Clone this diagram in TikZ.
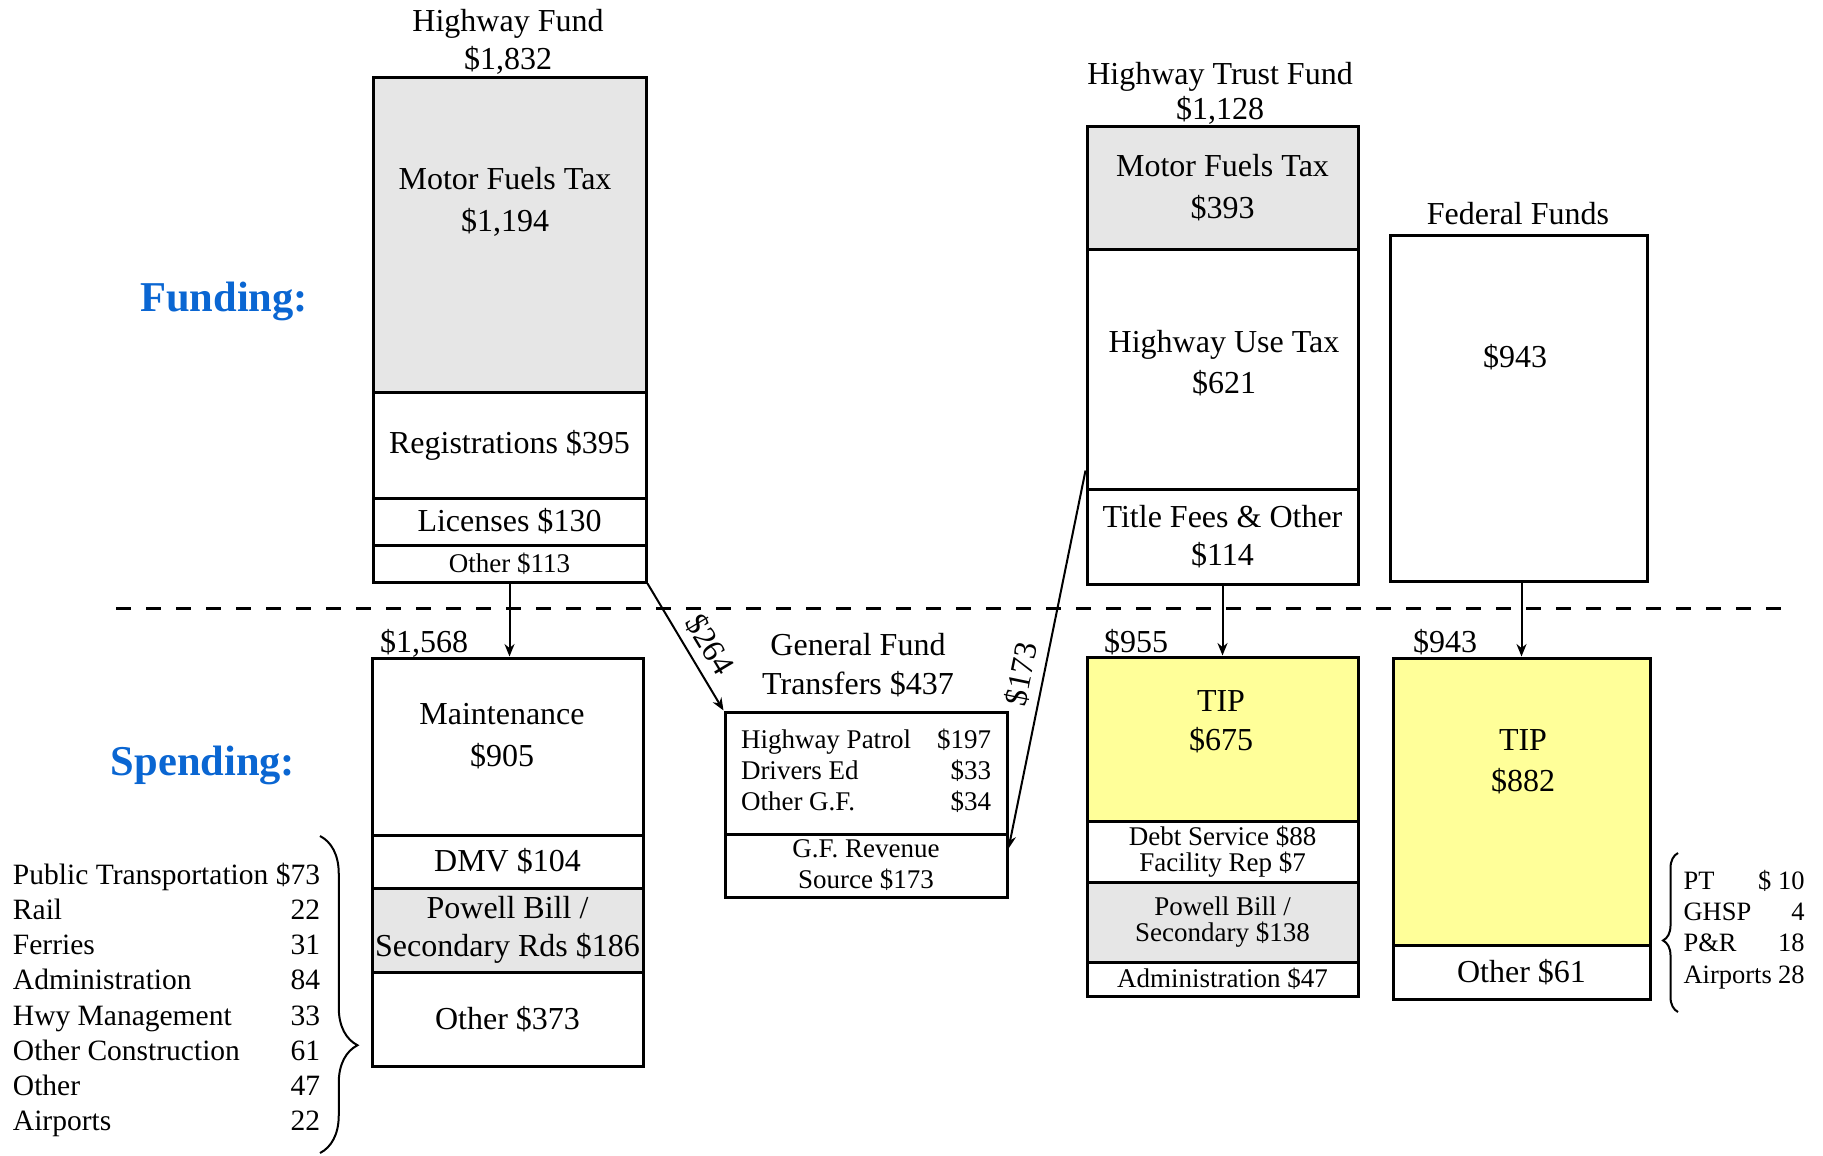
\documentclass[tikz,border=0pt]{standalone}
\usepackage{fontspec}
\setmainfont{Liberation Serif}
\usetikzlibrary{arrows.meta,decorations.pathreplacing}
\definecolor{fundblue}{RGB}{10,102,210}
\definecolor{segfill}{RGB}{230,230,230}
\definecolor{tipfill}{RGB}{255,255,153}

\begin{document}
\begin{tikzpicture}[x=0.4pt, y=-0.4pt,
    seg/.style={rectangle, draw, line width=1.2pt, inner sep=0pt, align=center, font=\fontsize{12.8}{15}\selectfont},
    big/.style={font=\fontsize{12.8}{15}\selectfont},
    bigwide/.style={font=\fontsize{12.8}{16.6}\selectfont},
    small/.style={font=\fontsize{10.8}{12.4}\selectfont},
    tight/.style={font=\fontsize{10.8}{10.6}\selectfont},
    lbl/.style={align=center, inner sep=0pt},
    head/.style={font=\fontsize{17}{20}\selectfont\bfseries, text=fundblue},
    arrow/.style={-{Stealth[length=5pt,width=4pt]}, line width=0.8pt}
]
\useasboundingbox (0,0) rectangle (1823,1155);

\node[head] (funding) at (224,301) {Funding:};
\node[head] (spending) at (203,765) {Spending:};

\node[lbl, big] (hfTitle) at (508,42) {Highway Fund\\\$1,832};
\node[seg, fill=segfill, minimum width=109.2pt, minimum height=126pt] (hf1) at (509.5,234.5) {};
\node[lbl, bigwide] (hf1Text) at (505,202) {Motor Fuels Tax\\\$1,194};
\node[seg, minimum width=109.2pt, minimum height=42.4pt] (hf2) at (509.5,445) {Registrations \$395};
\node[seg, minimum width=109.2pt, minimum height=18.8pt] (hf3) at (509.5,521.5) {Licenses \$130};
\node[seg, small, minimum width=109.2pt, minimum height=14.8pt] (hf4) at (509.5,563.5) {Other \$113};

\node[lbl, font=\fontsize{12.8}{14}\selectfont] (htfTitle) at (1220,93) {Highway Trust Fund\\\$1,128};
\node[seg, bigwide, fill=segfill, minimum width=108.4pt, minimum height=49.2pt] (htf1) at (1222.5,187.5) {Motor Fuels Tax\\\$393};
\node[seg, minimum width=108.4pt, minimum height=96pt] (htf2) at (1222.5,369) {};
\node[lbl, bigwide] (htf2Text) at (1224,363) {Highway Use Tax\\\$621};
\node[seg, minimum width=108.4pt, minimum height=38pt] (htf3) at (1222.5,536.5) {Title Fees \& Other\\\$114};

\node[lbl, big] (ffTitle) at (1518,214) {Federal Funds};
\node[seg, minimum width=102.8pt, minimum height=138.4pt] (ff) at (1518.5,408) {};
\node[lbl, big] (ffText) at (1515,357) {\$943};

\draw[line width=1.2pt, dash pattern=on 6pt off 6pt] (116,608) -- (1790,608);

\node[lbl, big] (mTotal) at (424,643) {\$1,568};
\node[seg, minimum width=108.4pt, minimum height=70.8pt] (m1) at (507.5,746.5) {};
\node[lbl, bigwide] (m1Text) at (502,736) {Maintenance\\\$905};
\node[seg, minimum width=108.4pt, minimum height=21.2pt] (m2) at (507.5,861.5) {DMV \$104};
\node[seg, fill=segfill, minimum width=108.4pt, minimum height=33.6pt] (m3) at (507.5,930) {Powell Bill /\\Secondary Rds \$186};
\node[seg, minimum width=108.4pt, minimum height=37.6pt] (m4) at (507.5,1019) {Other \$373};

\node[lbl, font=\fontsize{12.8}{15.6}\selectfont] (gfTitle) at (858,665) {General Fund\\Transfers \$437};
\node[seg, small, minimum width=112.8pt, minimum height=48.8pt] (g1) at (866,773)
  {\begin{tabular*}{100pt}{@{}l@{\extracolsep{\fill}}r@{}}
   Highway Patrol & \$197\\
   Drivers Ed & \$33\\
   Other G.F. & \$34
   \end{tabular*}};
\node[seg, small, minimum width=112.8pt, minimum height=25.2pt] (g2) at (866,865.5) {G.F. Revenue\\Source \$173};

\node[lbl, big] (tTotal) at (1136,642) {\$955};
\node[seg, fill=tipfill, minimum width=108.4pt, minimum height=65.6pt] (t1) at (1222.5,739) {};
\node[lbl, font=\fontsize{12.8}{15.6}\selectfont] (t1Text) at (1221,721.5) {TIP\\\$675};
\node[seg, tight, minimum width=108.4pt, minimum height=24.4pt] (t2) at (1222.5,851.5) {Debt Service \$88\\Facility Rep \$7};
\node[seg, tight, fill=segfill, minimum width=108.4pt, minimum height=32pt] (t3) at (1222.5,922) {Powell Bill /\\Secondary \$138};
\node[seg, small, minimum width=108.4pt, minimum height=13.6pt] (t4) at (1222.5,979) {Administration \$47};

\node[lbl, big] (fTotal) at (1445,642) {\$943};
\node[seg, fill=tipfill, minimum width=102.8pt, minimum height=114.8pt] (f1) at (1521.5,801.5) {};
\node[lbl, bigwide] (f1Text) at (1523,761.5) {TIP\\\$882};
\node[seg, minimum width=102.8pt, minimum height=21.6pt] (f2) at (1521.5,972) {Other \$61};

\node[inner sep=0pt, font=\fontsize{11.8}{14.1}\selectfont] (hwyList) at (166.5,1000.5)
  {\begin{tabular*}{122.8pt}{@{}l@{\extracolsep{\fill}}r@{}}
   Public Transportation & \$73\\
   Rail & 22\\
   Ferries & 31\\
   Administration & 84\\
   Hwy Management & 33\\
   Other Construction & 61\\
   Other & 47\\
   Airports & 22
   \end{tabular*}};
\node[inner sep=0pt, font=\fontsize{10.6}{12.5}\selectfont] (fedList) at (1744,930)
  {\begin{tabular}{@{}p{48.4pt}@{}}
   PT\hfill\$ 10\\
   GHSP\hfill 4\hspace{2pt}\\
   P\&R\hfill 18\\
   Airports\hfill 28
   \end{tabular}};

\draw[decorate, decoration={brace, amplitude=15pt, aspect=0.66}, line width=0.8pt] (320,836) -- (320,1153);
\draw[decorate, decoration={brace, amplitude=6pt, aspect=0.45}, line width=0.8pt] (1678,1012) -- (1678,853);

\draw[arrow] (hf4.south) -- (hf4.south |- m1.north);
\draw[arrow] (hf4.south east) -- node[pos=0.57, sloped, above, big] (l264) {\$264} (g1.north west);
\draw[arrow] ([yshift=8pt]htf2.south west) -- node[pos=0.55, sloped, above, big] (l173) {\$173} ([yshift=-6.4pt]g2.north east);
\draw[arrow] (htf3.south) -- (t1.north);
\draw[arrow] (f1.north |- ff.south) -- (f1.north);
\end{tikzpicture}
\end{document}
